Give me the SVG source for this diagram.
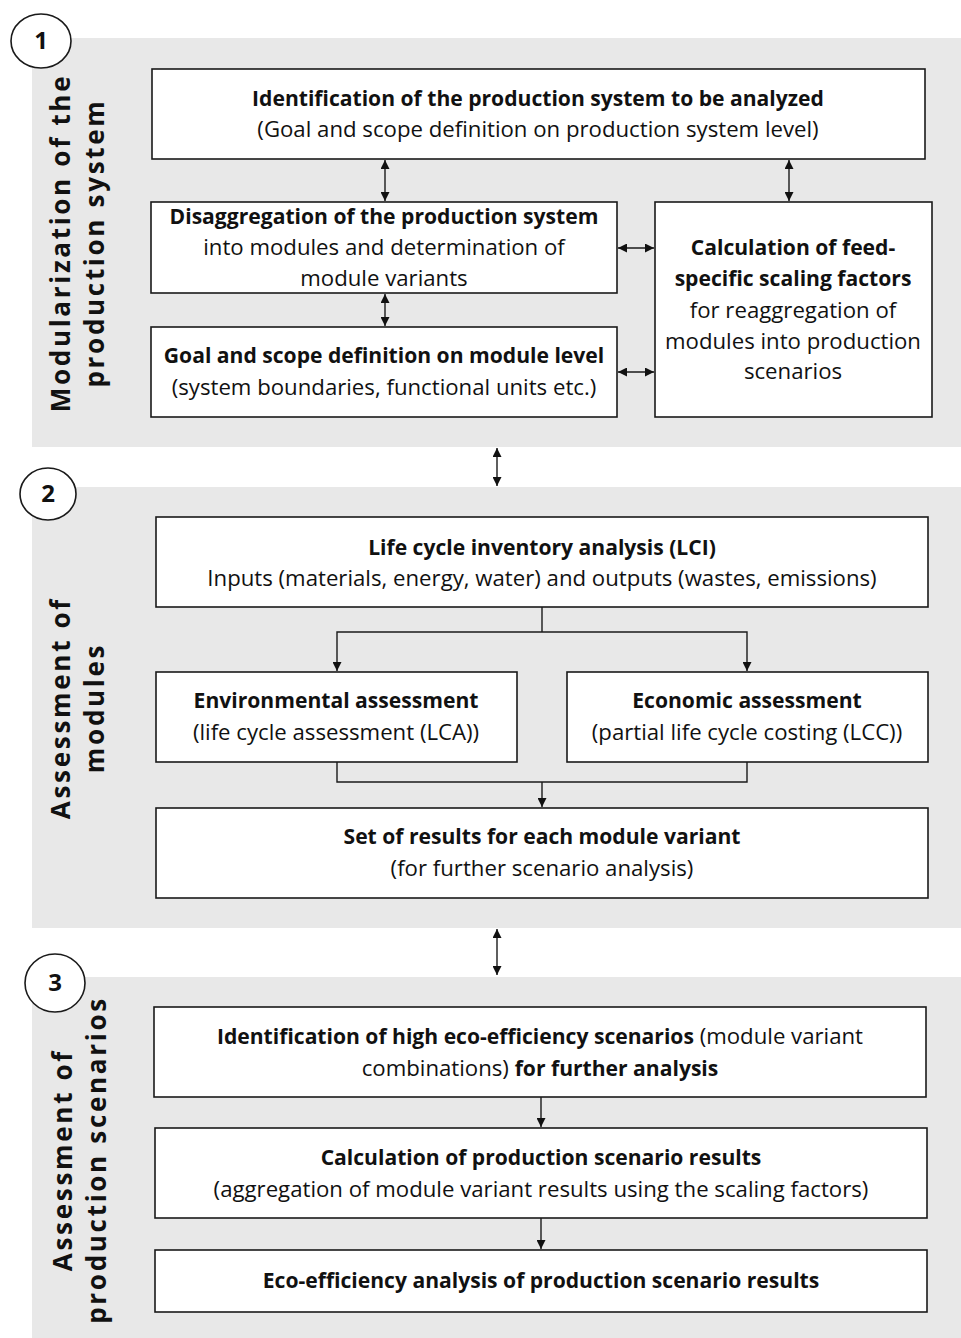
<svg xmlns="http://www.w3.org/2000/svg" width="961" height="1338" viewBox="0 0 961 1338">
<defs>
<marker id="ah" viewBox="0 0 10 10" refX="10" refY="5" markerWidth="9" markerHeight="9" markerUnits="userSpaceOnUse" orient="auto-start-reverse">
<path d="M0,0 L10,5 L0,10 z" fill="#111"/>
</marker>
<style>
.panel{fill:#e8e8e8}
.box{fill:#fff;stroke:#1a1a1a;stroke-width:1.6}
.circ{fill:#fff;stroke:#1a1a1a;stroke-width:1.6}
.t{font-family:"Open Sans","Liberation Sans",sans-serif;font-size:22.2px;fill:#111;text-anchor:middle}
.b{font-weight:bold;font-size:21.1px}
.num{font-family:"Open Sans","Liberation Sans",sans-serif;font-size:24px;font-weight:bold;fill:#111;text-anchor:middle}
.lbl{font-family:"Open Sans","Liberation Sans",sans-serif;font-size:26px;font-weight:bold;fill:#111;text-anchor:middle;letter-spacing:2.7px}
.c{fill:none;stroke:#1a1a1a;stroke-width:1.4}
.a{fill:none;stroke:#1a1a1a;stroke-width:1.4;marker-end:url(#ah)}
.d{fill:none;stroke:#1a1a1a;stroke-width:1.4;marker-end:url(#ah);marker-start:url(#ah)}
</style>
</defs>
<rect width="961" height="1338" fill="#fff"/>
<g id="panel1">
<rect class="panel" x="32" y="38" width="929" height="409"/>
<ellipse class="circ" cx="41" cy="41" rx="30" ry="27"/>
<text class="num" x="41" y="49">1</text>
<text class="lbl" transform="translate(70,243) rotate(-90)">Modularization of the</text>
<text class="lbl" transform="translate(104,243) rotate(-90)">production system</text>
</g>
<g id="panel2">
<rect class="panel" x="32" y="487" width="929" height="441"/>
<ellipse class="circ" cx="48" cy="494" rx="28" ry="26"/>
<text class="num" x="48" y="502">2</text>
<text class="lbl" transform="translate(70,708) rotate(-90)">Assessment of</text>
<text class="lbl" transform="translate(104,708) rotate(-90)">modules</text>
</g>
<g id="panel3">
<rect class="panel" x="32" y="977" width="929" height="361"/>
<ellipse class="circ" cx="55" cy="983" rx="30" ry="29"/>
<text class="num" x="55" y="991">3</text>
<text class="lbl" transform="translate(72,1160) rotate(-90)">Assessment of</text>
<text class="lbl" transform="translate(106,1160) rotate(-90)">production scenarios</text>
</g>
<g id="node-identification">
<rect class="box" x="152" y="69" width="773" height="90"/>
<text class="t b" x="538" y="106">Identification of the production system to be analyzed</text>
<text class="t" x="538" y="137">(Goal and scope definition on production system level)</text>
</g>
<g id="node-disaggregation">
<rect class="box" x="151" y="202" width="466" height="91"/>
<text class="t b" x="384" y="224">Disaggregation of the production system</text>
<text class="t" x="384" y="255">into modules and determination of</text>
<text class="t" x="384" y="286">module variants</text>
</g>
<g id="node-goal-module">
<rect class="box" x="151" y="327" width="466" height="90"/>
<text class="t b" x="384" y="363">Goal and scope definition on module level</text>
<text class="t" x="384" y="395">(system boundaries, functional units etc.)</text>
</g>
<g id="node-scaling">
<rect class="box" x="655" y="202" width="277" height="215"/>
<text class="t b" x="793" y="255">Calculation of feed-</text>
<text class="t b" x="793" y="286">specific scaling factors</text>
<text class="t" x="793" y="318">for reaggregation of</text>
<text class="t" x="793" y="349">modules into production</text>
<text class="t" x="793" y="379">scenarios</text>
</g>
<g id="node-lci">
<rect class="box" x="156" y="517" width="772" height="90"/>
<text class="t b" x="542" y="555">Life cycle inventory analysis (LCI)</text>
<text class="t" x="542" y="586">Inputs (materials, energy, water) and outputs (wastes, emissions)</text>
</g>
<g id="node-env">
<rect class="box" x="156" y="672" width="361" height="90"/>
<text class="t b" x="336" y="708">Environmental assessment</text>
<text class="t" x="336" y="740">(life cycle assessment (LCA))</text>
</g>
<g id="node-econ">
<rect class="box" x="567" y="672" width="361" height="90"/>
<text class="t b" x="747" y="708">Economic assessment</text>
<text class="t" x="747" y="740">(partial life cycle costing (LCC))</text>
</g>
<g id="node-results">
<rect class="box" x="156" y="808" width="772" height="90"/>
<text class="t b" x="542" y="844">Set of results for each module variant</text>
<text class="t" x="542" y="876">(for further scenario analysis)</text>
</g>
<g id="node-high-eco">
<rect class="box" x="154" y="1007" width="772" height="90"/>
<text class="t" x="540" y="1044"><tspan class="b">Identification of high eco-efficiency scenarios</tspan> (module variant</text>
<text class="t" x="540" y="1076">combinations) <tspan class="b">for further analysis</tspan></text>
</g>
<g id="node-calc-scenario">
<rect class="box" x="155" y="1128" width="772" height="90"/>
<text class="t b" x="541" y="1165">Calculation of production scenario results</text>
<text class="t" x="541" y="1197">(aggregation of module variant results using the scaling factors)</text>
</g>
<g id="node-eco-eff">
<rect class="box" x="155" y="1250" width="772" height="62"/>
<text class="t b" x="541" y="1288">Eco-efficiency analysis of production scenario results</text>
</g>
<g id="connectors">
<line class="d" x1="385" y1="160" x2="385" y2="201"/>
<line class="d" x1="385" y1="294" x2="385" y2="326"/>
<line class="d" x1="789" y1="160" x2="789" y2="201"/>
<line class="d" x1="618" y1="248" x2="654" y2="248"/>
<line class="d" x1="618" y1="372" x2="654" y2="372"/>
<line class="d" x1="497" y1="448" x2="497" y2="486"/>
<polyline class="c" points="542,607 542,632"/>
<polyline class="a" points="542,632 337,632 337,671"/>
<polyline class="a" points="542,632 747,632 747,671"/>
<polyline class="c" points="337,762 337,782 747,782 747,762"/>
<line class="a" x1="542" y1="782" x2="542" y2="807"/>
<line class="d" x1="497" y1="929" x2="497" y2="975"/>
<line class="a" x1="541" y1="1097" x2="541" y2="1127"/>
<line class="a" x1="541" y1="1218" x2="541" y2="1249"/>
</g>
</svg>
